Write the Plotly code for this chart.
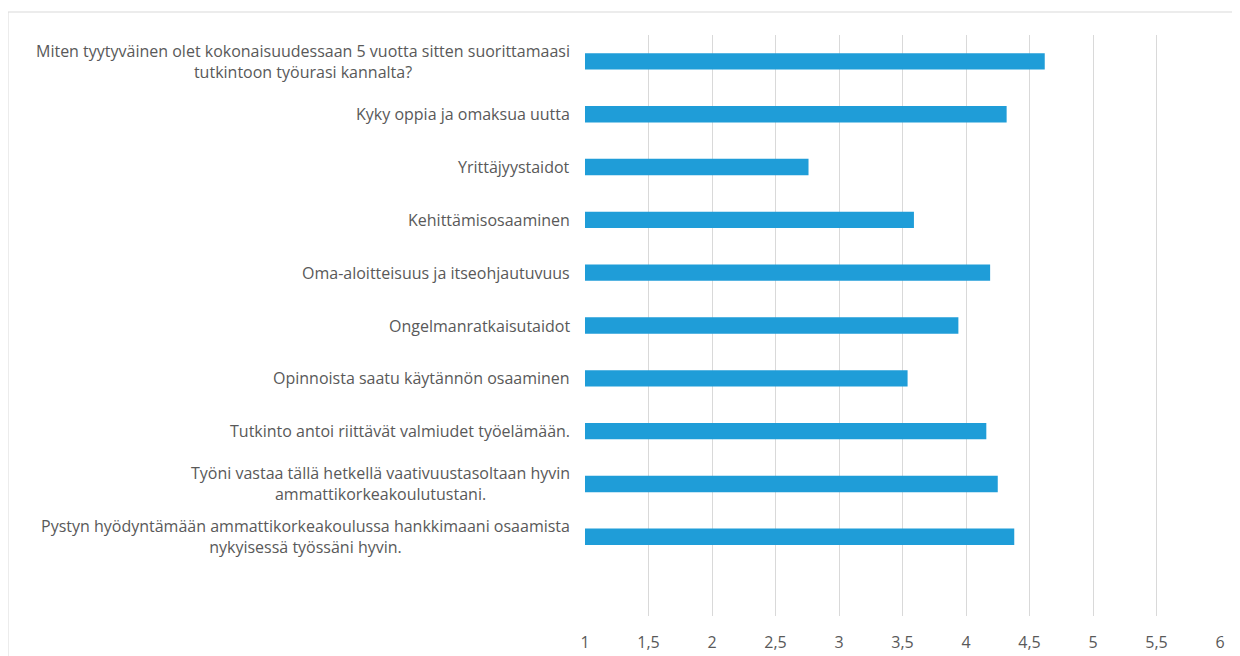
import plotly.graph_objects as go

categories = [
    "Miten tyytyväinen olet kokonaisuudessaan 5 vuotta sitten suorittamaasi<br>tutkintoon työurasi kannalta?",
    "Kyky oppia ja omaksua uutta",
    "Yrittäjyystaidot",
    "Kehittämisosaaminen",
    "Oma-aloitteisuus ja itseohjautuvuus",
    "Ongelmanratkaisutaidot",
    "Opinnoista saatu käytännön osaaminen",
    "Tutkinto antoi riittävät valmiudet työelämään.",
    "Työni vastaa tällä hetkellä vaativuustasoltaan hyvin<br>ammattikorkeakoulutustani.",
    "Pystyn hyödyntämään ammattikorkeakoulussa hankkimaani osaamista<br>nykyisessä työssäni hyvin.",
]
values = [4.62, 4.32, 2.76, 3.59, 4.19, 3.94, 3.54, 4.16, 4.25, 4.38]
axis_min = 1
tick_vals = [1, 1.5, 2, 2.5, 3, 3.5, 4, 4.5, 5, 5.5, 6]
tick_text = ["1", "1,5", "2", "2,5", "3", "3,5", "4", "4,5", "5", "5,5", "6"]

BAR = "#1f9dd8"
TXT = "#595959"
FONT = "Open Sans"
FS = 16

fig = go.Figure()
fig.add_trace(go.Bar(
    x=[v - axis_min for v in values], y=categories, orientation="h",
    base=axis_min, width=0.31,
    marker=dict(color=BAR, line=dict(width=0)),
    customdata=values, hovertemplate="%{y}: %{customdata}<extra></extra>",
))

fig.update_layout(
    width=1232, height=648,
    margin=dict(l=577, r=20, t=27, b=40, autoexpand=False),
    paper_bgcolor="white", plot_bgcolor="white",
    showlegend=False,
    font=dict(family=FONT, size=FS, color=TXT),
)
fig.update_xaxes(
    range=[1, 6], tickvals=tick_vals, ticktext=tick_text,
    showgrid=True, gridcolor="#d9d9d9", gridwidth=1,
    zeroline=False, showline=False, ticks="",
    tickfont=dict(family=FONT, size=FS, color=TXT),
    ticklabelstandoff=15, automargin=False,
)
fig.update_yaxes(
    type="category", categoryorder="array", categoryarray=categories,
    range=[10.5, -0.5], showticklabels=False, showgrid=False,
    zeroline=False, showline=False, ticks="", automargin=False,
)

for cat in categories:
    fig.add_annotation(
        x=0, xref="paper", y=cat, yref="y",
        text=cat, showarrow=False, xanchor="right", yanchor="middle",
        align="center", xshift=-13,
        font=dict(family=FONT, size=FS, color=TXT),
    )

# outer chart border (left and top edges visible)
fig.add_shape(
    type="rect", xref="paper", yref="paper",
    x0=-577 / 635, x1=1.2, y0=-0.2, y1=(581 + 23) / 581,
    line=dict(color="#d9d9d9", width=1), fillcolor="rgba(0,0,0,0)",
    layer="below",
)

fig.write_html("out.html")
